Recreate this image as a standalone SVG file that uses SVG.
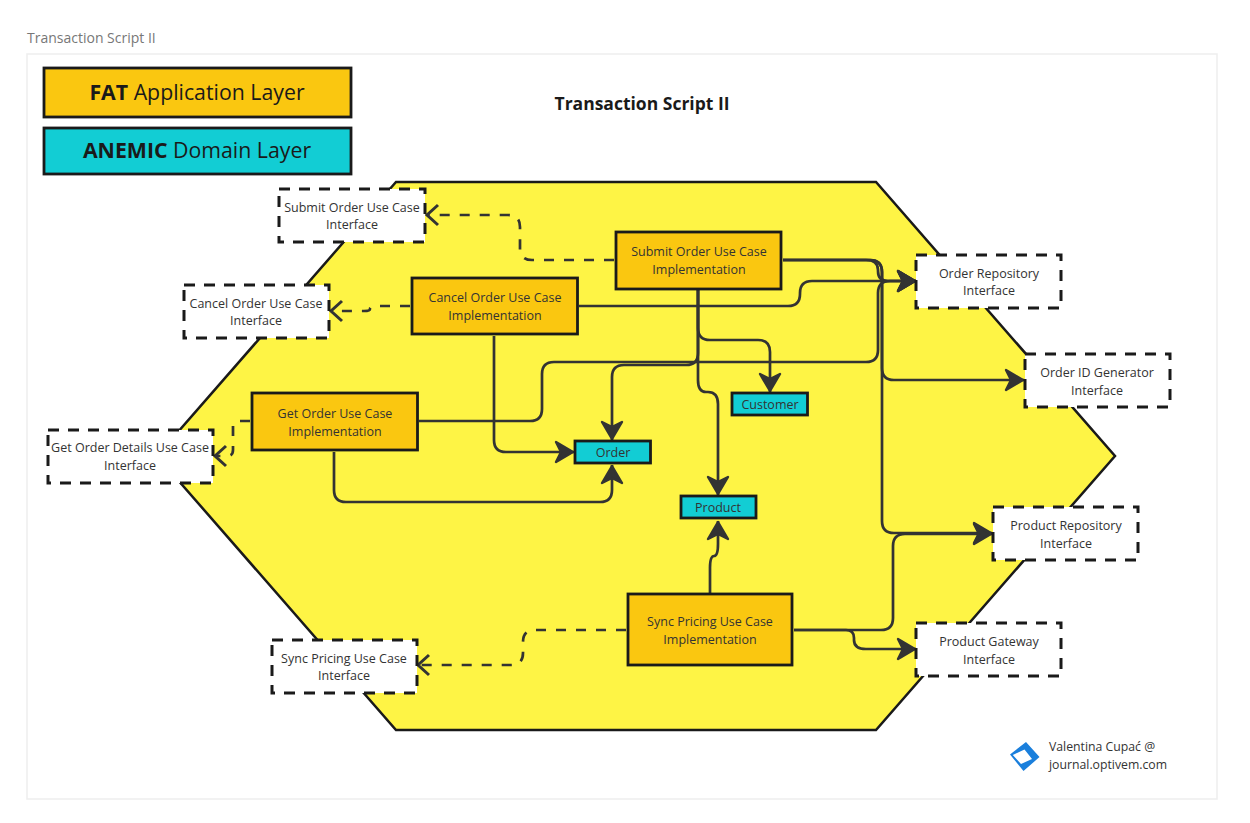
<svg xmlns="http://www.w3.org/2000/svg" width="1250" height="823" viewBox="0 0 1250 823">
<style>
text{font-family:"Open Sans","Noto Sans","Liberation Sans",sans-serif;text-anchor:middle;fill:#333}
.n{font-size:12.5px}
.cr{font-size:12.25px;text-anchor:start}
.leg{font-size:21.3px;fill:#1a1a1a}
.leg tspan.b{font-weight:700}
.impl{fill:#fac710;stroke:#1a1a1a;stroke-width:2.8}
.dom{fill:#12cdd4;stroke:#1a1a1a;stroke-width:2.8}
.intf{fill:#fff;stroke:#1a1a1a;stroke-width:3;stroke-dasharray:11 9}
.c{fill:none;stroke:#333;stroke-width:2.7;marker-end:url(#solid)}
.d{fill:none;stroke:#333;stroke-width:2.7;stroke-dasharray:10 10;marker-end:url(#open)}
</style>
<defs>
<marker id="solid" markerUnits="userSpaceOnUse" markerWidth="32" markerHeight="32" refX="25" refY="16" orient="auto" overflow="visible">
<path d="M24 16L7 6L12 16L7 26Z" fill="#333" stroke="#333" stroke-width="2.400" stroke-linejoin="round"/>
</marker>
<marker id="open" markerUnits="userSpaceOnUse" markerWidth="32" markerHeight="32" refX="24" refY="16" orient="auto" overflow="visible">
<path d="M13 6L24 16L13 26" fill="none" stroke="#333" stroke-width="3"/>
</marker>
</defs>
<rect width="1250" height="823" fill="#fff"/>
<text x="27" y="43" style="text-anchor:start;font-size:14px;fill:#777">Transaction Script II</text>
<rect x="27" y="54" width="1190" height="745" fill="#fff" stroke="#eee" stroke-width="1.500"/>
<polygon id="hexagon" points="396,182 876,182 1115,456 876,730 396,730 157,456" fill="#fef445" stroke="#1a1a1a" stroke-width="2.500"/>
<g id="legend-fat"><rect x="44" y="68" width="307" height="49" fill="#fac710" stroke="#1a1a1a" stroke-width="2.800"/><text class="leg" x="197" y="100"><tspan class="b">FAT</tspan> Application Layer</text></g>
<g id="legend-anemic"><rect x="44" y="128" width="307" height="46" fill="#12cdd4" stroke="#1a1a1a" stroke-width="2.800"/><text class="leg" x="197" y="158"><tspan class="b">ANEMIC</tspan> Domain Layer</text></g>
<text id="title" x="642" y="110" style="font-size:17.500px;font-weight:700;fill:#1a1a1a">Transaction Script II</text>
<g id="connectors">
<path class="d" d="M614 260H532Q520 260 520 248V227Q520 215 508 215H427"/>
<path class="d" d="M410 306H376Q370 306 370 309Q370 311 364 311H331"/>
<path class="d" d="M250 421H238Q233 421 233 426V450Q233 456 227 456H215"/>
<path class="d" d="M626 630H535Q523 630 523 642V653Q523 665 511 665H418"/>
<path class="c" d="M698 290V328Q698 340 710 340H758Q770 340 770 352V392"/>
<path class="c" d="M698 290V353Q698 365 686 365H624Q612 365 612 377V440"/>
<path class="c" d="M698 290V380Q698 392 706 392H708Q718 392 718 404V495"/>
<path class="c" d="M783 260H866Q878 260 878 270V271Q878 281 888 281H916"/>
<path class="c" d="M783 260H870Q882 260 882 272V368Q882 380 894 380H1024"/>
<path class="c" d="M783 260H870Q882 260 882 272V521Q882 533 894 533H992"/>
<path class="c" d="M579 306H788Q800 306 800 294V293Q800 281 812 281H916"/>
<path class="c" d="M494 336V440Q494 452 506 452H574"/>
<path class="c" d="M419 421H530Q542 421 542 409V374Q542 362 554 362H866Q878 362 878 350V293Q878 281 890 281H916"/>
<path class="c" d="M334 452V490Q334 502 346 502H600Q612 502 612 490V465"/>
<path class="c" d="M710 593V568Q710 556 714 556Q718 556 718 544V521"/>
<path class="c" d="M794 630H881Q893 630 893 618V546Q893 534 905 534H992"/>
<path class="c" d="M794 630H846Q854 630 854 638V640Q854 649 866 649H916"/>
</g>
<g id="impl-submit"><rect class="impl" x="616" y="232" width="165" height="57"/><text class="n" x="699" y="256">Submit Order Use Case</text><text class="n" x="699" y="274">Implementation</text></g>
<g id="impl-cancel"><rect class="impl" x="412" y="278" width="165.500" height="56"/><text class="n" x="495" y="302">Cancel Order Use Case</text><text class="n" x="495" y="320">Implementation</text></g>
<g id="impl-get"><rect class="impl" x="252" y="393" width="165.500" height="57"/><text class="n" x="335" y="418">Get Order Use Case</text><text class="n" x="335" y="436">Implementation</text></g>
<g id="impl-sync"><rect class="impl" x="628" y="594" width="164" height="71"/><text class="n" x="710" y="626">Sync Pricing Use Case</text><text class="n" x="710" y="644">Implementation</text></g>
<g id="dom-customer"><rect class="dom" x="732" y="393" width="75.500" height="22"/><text class="n" x="770" y="409">Customer</text></g>
<g id="dom-order"><rect class="dom" x="575" y="441" width="75.500" height="22"/><text class="n" x="613" y="457">Order</text></g>
<g id="dom-product"><rect class="dom" x="681" y="496" width="75" height="22"/><text class="n" x="718" y="512">Product</text></g>
<g id="intf-submit"><rect class="intf" x="279" y="189" width="146" height="53"/><text class="n" x="352" y="212">Submit Order Use Case</text><text class="n" x="352" y="229">Interface</text></g>
<g id="intf-cancel"><rect class="intf" x="184" y="285" width="145" height="53"/><text class="n" x="256" y="308">Cancel Order Use Case</text><text class="n" x="256" y="325">Interface</text></g>
<g id="intf-get"><rect class="intf" x="48" y="430" width="165" height="53"/><text class="n" x="130" y="452">Get Order Details Use Case</text><text class="n" x="130" y="470">Interface</text></g>
<g id="intf-sync"><rect class="intf" x="272" y="640" width="145" height="53"/><text class="n" x="344" y="663">Sync Pricing Use Case</text><text class="n" x="344" y="680">Interface</text></g>
<g id="intf-order-repo"><rect class="intf" x="916" y="255" width="145" height="53"/><text class="n" x="989" y="278">Order Repository</text><text class="n" x="989" y="295">Interface</text></g>
<g id="intf-order-id"><rect class="intf" x="1025" y="354" width="145" height="53"/><text class="n" x="1097" y="377">Order ID Generator</text><text class="n" x="1097" y="395">Interface</text></g>
<g id="intf-product-repo"><rect class="intf" x="993" y="507" width="145" height="53"/><text class="n" x="1066" y="530">Product Repository</text><text class="n" x="1066" y="548">Interface</text></g>
<g id="intf-product-gw"><rect class="intf" x="916" y="623" width="145" height="53"/><text class="n" x="989" y="646">Product Gateway</text><text class="n" x="989" y="664">Interface</text></g>
<g id="credit">
<path d="M1026 742L1039.500 757L1023.500 771L1010 754.500ZM1012.800 755L1021 764L1032 759L1024.500 749.500Z" fill="#1a7fdc" fill-rule="evenodd"/>
<text class="cr" x="1049" y="751">Valentina Cupać @</text>
<text class="cr" x="1049" y="769">journal.optivem.com</text>
</g>
</svg>
